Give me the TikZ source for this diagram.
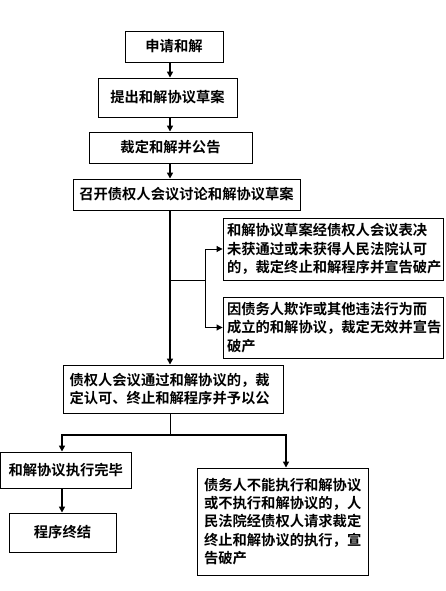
\documentclass[tikz,border=0pt]{standalone}
\usepackage{fontspec}
\setmainfont{Noto Sans CJK SC}[BoldFont={Noto Sans CJK SC Bold}]
\usetikzlibrary{arrows.meta,calc}
\begin{document}
\begin{tikzpicture}[x=1pt,y=1pt,
  box/.style={draw=black,line width=0.9pt,inner sep=0pt,align=center,font=\fontsize{14.3}{18.3}\selectfont\bfseries},
  lbox/.style={box,align=left},
  arr/.style={line width=1.6pt,-{Triangle[length=6pt,width=6pt]}},
  thinarr/.style={line width=1pt,-{Triangle[length=6pt,width=6pt]}},
  conn/.style={line width=1pt}]
\useasboundingbox (0,0) rectangle (446,-591);
\fill[white] (0,0) rectangle (446,-591);
\coordinate (spine) at (170,0);
\coordinate (lx) at (62,0);
\coordinate (rx) at (286,0);
\node[box,minimum width=98,minimum height=31] (b1) at (174,-46.5) {申请和解};
\node[box,minimum width=139,minimum height=39] (b2) at (167.5,-97.5) {提出和解协议草案};
\node[box,minimum width=163,minimum height=31] (b3) at (170.5,-147.5) {裁定和解并公告};
\node[box,minimum width=227,minimum height=31] (b4) at (186.5,-194.5) {召开债权人会议讨论和解协议草案};
\node[lbox,minimum width=220,minimum height=62,text width=212] (b5) at (333,-249)
  {\hspace*{0pt}和解协议草案经债权人会议表决\\未获通过或未获得人民法院认可\\的，裁定终止和解程序并宣告破产};
\node[lbox,minimum width=220,minimum height=61,text width=212] (b6) at (333,-327.5)
  {因债务人欺诈或其他违法行为而\\成立的和解协议，裁定无效并宣告\\破产};
\node[lbox,minimum width=220,minimum height=48,text width=207] (b7) at (173,-389)
  {债权人会议通过和解协议的，裁\\定认可、终止和解程序并予以公};
\node[box,minimum width=130.5,minimum height=36] (b8) at (65.75,-470) {和解协议执行完毕};
\node[box,minimum width=107,minimum height=39] (b10) at (62.5,-532.5) {程序终结};
\node[lbox,minimum width=171,minimum height=107,text width=157] (b9) at (282.5,-521.5)
  {债务人不能执行和解协议\\或不执行和解协议的，人\\民法院经债权人请求裁定\\终止和解协议的执行，宣\\告破产};
\coordinate (junc) at (170,-280);
\coordinate (fork) at (205,-280);
\coordinate (split) at (170,-435);
\draw[arr] (b1.south -| spine) -- (b2.north -| spine);
\draw[arr] (b2.south -| spine) -- (b3.north -| spine);
\draw[arr] (b3.south -| spine) -- (b4.north -| spine);
\draw[arr] (b4.south -| spine) -- (b7.north -| spine);
\draw[conn] (junc) -- (fork);
\draw[thinarr] (fork) |- (b5.west);
\draw[thinarr] (fork) |- (b6.west);
\draw[conn] (b7.south -| spine) -- (split);
\draw[arr] (split) -| (b8.north -| lx);
\draw[arr] (split) -| (b9.north -| rx);
\draw[arr] (b8.south -| lx) -- (b10.north -| lx);
\end{tikzpicture}
\end{document}
